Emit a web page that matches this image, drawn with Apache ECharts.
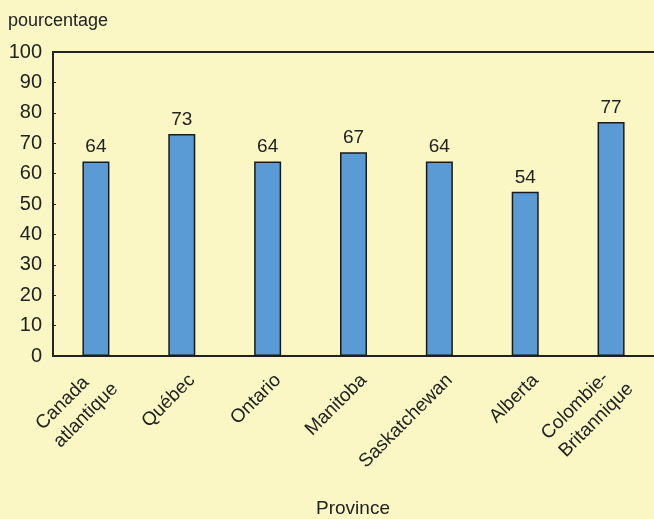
<!DOCTYPE html>
<html><head><meta charset="utf-8">
<script src="https://cdn.jsdelivr.net/npm/echarts@6/dist/echarts.min.js"></script>
<style>html,body{margin:0;padding:0;background:#FAF7C4;}#c{width:654px;height:519px;}</style>
</head><body><div id="c"></div>
<script>
var categories = ["Canada\natlantique", "Québec", "Ontario", "Manitoba", "Saskatchewan", "Alberta", "Colombie-\nBritannique"];
var values = [64, 73, 64, 67, 64, 54, 77];
var yTicks = [0, 10, 20, 30, 40, 50, 60, 70, 80, 90, 100];
var FONT = '"Liberation Sans", Arial, sans-serif';
var chart = echarts.init(document.getElementById('c'));
chart.setOption({
  backgroundColor: '#FAF7C4',
  animation: false,
  grid: {left: 53, right: 0, top: 52, bottom: 163},
  graphic: [
    {type: 'text', left: 8, top: 12, style: {text: 'pourcentage', font: '18px ' + FONT, fill: '#222'}},
    {type: 'text', style: {x: 353, y: 499, text: 'Province', font: '19px ' + FONT, fill: '#222', align: 'center', verticalAlign: 'top'}}
  ],
  xAxis: [{
    type: 'category', data: categories,
    axisLine: {lineStyle: {color: '#222', width: 2}},
    axisTick: {show: false},
    axisLabel: {
      rotate: 45, interval: 0, color: '#222', fontSize: 19, fontFamily: FONT,
      margin: 4, align: 'right', verticalAlign: 'middle', padding: [39, 5, 0, 0],
      formatter: function (v) {
        return v.split('\n').map(function (s) { return '{a|' + s + '}'; }).join('\n');
      },
      rich: {a: {align: 'left', lineHeight: 25, fontSize: 19, fontFamily: FONT, color: '#222'}}
    }
  }, {
    type: 'category', data: categories, position: 'top',
    axisLine: {lineStyle: {color: '#222', width: 2}},
    axisTick: {show: false}, axisLabel: {show: false}
  }],
  yAxis: {
    type: 'value', min: 0, max: 100, interval: 10,
    axisLine: {show: true, lineStyle: {color: '#222', width: 2}},
    axisTick: {show: true, inside: true, length: 3, lineStyle: {color: '#222'}},
    splitLine: {show: false},
    axisLabel: {color: '#222', fontSize: 20, fontFamily: FONT, margin: 11}
  },
  series: [{
    type: 'bar', data: values, barWidth: 27,
    itemStyle: {color: '#5B9BD5', borderColor: '#1a1a1a', borderWidth: 1.5},
    label: {show: true, position: 'top', distance: 5, color: '#222', fontSize: 19, fontFamily: FONT}
  }]
});
</script></body></html>
